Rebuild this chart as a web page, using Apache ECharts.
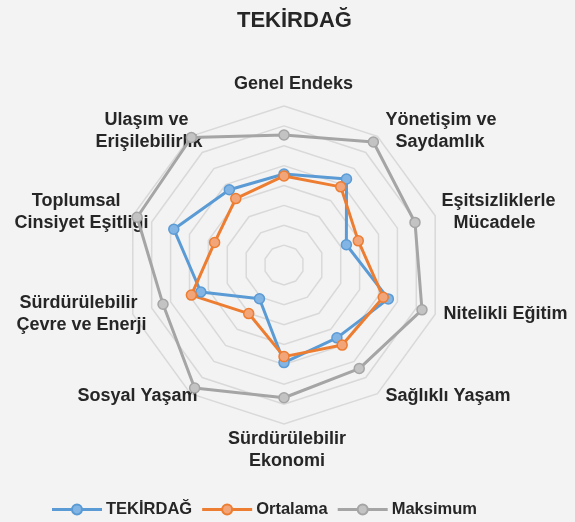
<!DOCTYPE html>
<html>
<head>
<meta charset="utf-8">
<script src="https://cdn.jsdelivr.net/npm/echarts@6/dist/echarts.min.js"></script>
<style>
  html, body { margin: 0; padding: 0; background: #f3f3f3; }
  #chart { width: 575px; height: 522px; }
</style>
</head>
<body>
<div id="chart"></div>
<script>
// indicators, clockwise from the top
const indicators = [
    'Genel Endeks',
    'Yönetişim ve\nSaydamlık',
    'Eşitsizliklerle\nMücadele',
    'Nitelikli Eğitim',
    'Sağlıklı Yaşam',
    'Sürdürülebilir\nEkonomi',
    'Sosyal Yaşam',
    'Sürdürülebilir\nÇevre ve Enerji',
    'Toplumsal\nCinsiyet Eşitliği',
    'Ulaşım ve\nErişilebilirlik'
]
const tekirdag = [45.8, 53.5, 33.0, 55.2, 45.3, 49.1, 21.0, 44.0, 58.3, 46.8]
const ortalama = [44.8, 48.6, 39.3, 52.5, 49.8, 46.1, 30.2, 49.0, 36.7, 41.3]
const maksimum = [65.4, 76.5, 69.3, 73.0, 64.4, 66.8, 76.5, 64.0, 77.7, 79.3]
const seriesNames = ['TEKİRDAĞ', 'Ortalama', 'Maksimum']
const axisMax = 80

// echarts lays indicators out counter-clockwise, so flip the order after the first
const ccw = a => [a[0]].concat(a.slice(1).reverse())

const font = {
    fontFamily: '"Liberation Sans", Arial, sans-serif',
    fontWeight: 'bold',
    color: '#262626'
}
const labelFont = Object.assign({ fontSize: 18, lineHeight: 22 }, font)

// small per-label nudges so the names sit where Excel put them
// lines: [padLeft, padRight] for each line, dy: vertical shift (+ = down)
const nudge = {
    'Genel Endeks': { lines: [[0, 3]], dy: -13, anchor: 'bottom' },
    'Yönetişim ve\nSaydamlık': { lines: [[0, 0], [10, 0]], dy: -7 },
    'Eşitsizliklerle\nMücadele': { lines: [[0, 0], [12, 0]], dy: -3 },
    'Nitelikli Eğitim': { lines: [[2, 0]], dy: 4 },
    'Sağlıklı Yaşam': { lines: [[0, 0]], dy: 9 },
    'Sürdürülebilir\nEkonomi': { lines: [[0, 16], [0, 16]], dy: 12, anchor: 'top' },
    'Sosyal Yaşam': { lines: [[0, 7]], dy: 9 },
    'Sürdürülebilir\nÇevre ve Enerji': { lines: [[0, 11], [0, 2]], dy: 4 },
    'Toplumsal\nCinsiyet Eşitliği': { lines: [[0, 28], [0, 0]], dy: -3 },
    'Ulaşım ve\nErişilebilirlik': { lines: [[0, 16], [0, 2]], dy: -7 }
}

const rich = {}
indicators.forEach((name, i) => {
    const n = nudge[name]
    n.lines.forEach((p, j) => {
        rich['l' + i + '_' + j] = Object.assign({ padding: [0, p[1], 0, p[0]] }, labelFont)
    })
    const mid = !n.anchor
    const h = Math.abs(n.dy) * (mid ? 2 : 1)
    rich['s' + i] = { fontSize: 1, lineHeight: h }
})

function nameFormatter(name) {
    const i = indicators.indexOf(name)
    const n = nudge[name]
    let out = name.split('\n').map((line, j) => '{l' + i + '_' + j + '|' + line + '}')
    if (n.dy < 0) out.push('{s' + i + '| }')
    if (n.dy > 0) out.unshift('{s' + i + '| }')
    return out.join('\n')
}

const legendIcon = 'path://M0,5.6L18,5.6L18,6.4L0,6.4Z M30,5.6L48,5.6L48,6.4L30,6.4Z M24,1A5,5 0 1,1 23.99,1Z'

const chart = echarts.init(document.getElementById('chart'), null, { renderer: 'canvas' })

const option = {
    backgroundColor: '#f3f3f3',
    animation: false,
    title: {
        text: 'TEKİRDAĞ',
        left: 232,
        top: 5,
        textStyle: Object.assign({ fontSize: 22 }, font)
    },
    legend: {
        data: seriesNames,
        left: 52,
        top: 501,
        padding: 0,
        itemWidth: 48,
        itemHeight: 10,
        itemGap: 10,
        icon: legendIcon,
        itemStyle: { borderWidth: 2 },
        textStyle: Object.assign({ fontSize: 16.5 }, font)
    },
    radar: [{
        // grid and data
        center: [284, 265],
        radius: 159,
        splitNumber: 8,
        shape: 'polygon',
        indicator: ccw(indicators).map(name => ({ name: name, min: 0, max: axisMax })),
        axisName: { show: false },
        axisLine: { show: false },
        splitArea: { show: false },
        splitLine: { lineStyle: { color: '#d9d9d9', width: 1.5 } }
    }, {
        // names only, laid out a little off-centre like the original
        center: [295, 262.5],
        radius: 150,
        nameGap: 4,
        shape: 'polygon',
        indicator: ccw(indicators).map(name => ({ name: name, min: 0, max: axisMax })),
        axisName: Object.assign({ formatter: nameFormatter, rich: rich }, labelFont),
        axisLine: { show: false },
        splitArea: { show: false },
        splitLine: { show: false }
    }],
    series: [{
        name: seriesNames[0],
        type: 'radar',
        radarIndex: 0,
        symbol: 'circle',
        symbolSize: 10,
        lineStyle: { color: '#5b9bd5', width: 3 },
        itemStyle: { color: '#82b4e4', borderColor: '#5b9bd5', borderWidth: 1.5 },
        data: [{ name: seriesNames[0], value: ccw(tekirdag) }]
    }, {
        name: seriesNames[1],
        type: 'radar',
        radarIndex: 0,
        symbol: 'circle',
        symbolSize: 10,
        lineStyle: { color: '#ed7d31', width: 3 },
        itemStyle: { color: '#f3a57a', borderColor: '#ed7d31', borderWidth: 1.5 },
        data: [{ name: seriesNames[1], value: ccw(ortalama) }]
    }, {
        name: seriesNames[2],
        type: 'radar',
        radarIndex: 0,
        symbol: 'circle',
        symbolSize: 10,
        lineStyle: { color: '#a5a5a5', width: 3 },
        itemStyle: { color: '#c3c3c3', borderColor: '#a5a5a5', borderWidth: 1.5 },
        data: [{ name: seriesNames[2], value: ccw(maksimum) }]
    }]
}

chart.setOption(option)
</script>
</body>
</html>
